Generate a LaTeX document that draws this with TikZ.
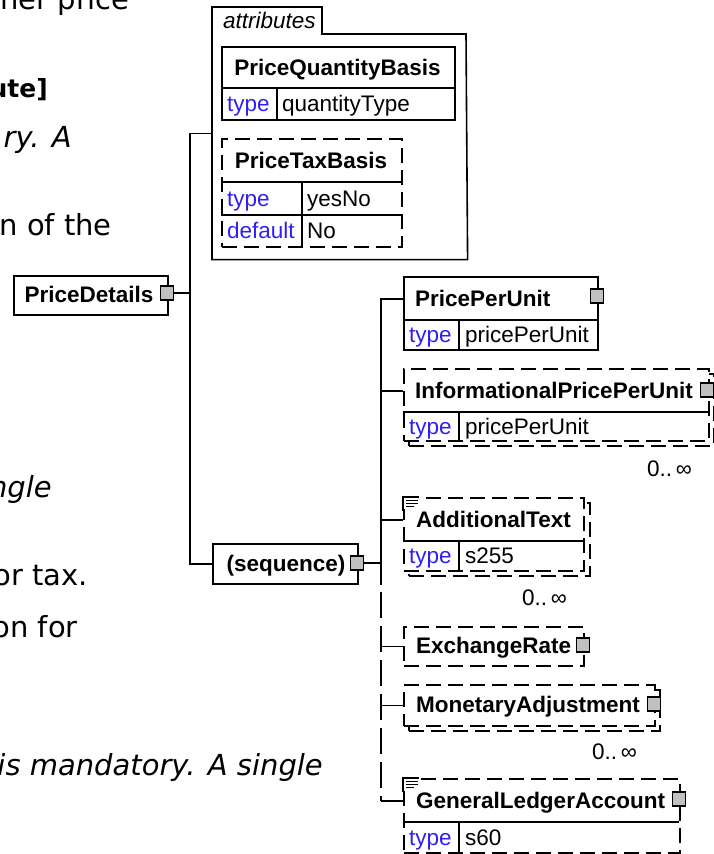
\documentclass[tikz,border=0pt]{standalone}
\usepackage{fontspec}
\setmainfont{Liberation Sans}
\newfontfamily\bgfont{DejaVu Sans}
\pgfdeclarelayer{bg}
\pgfsetlayers{bg,main}
\definecolor{shadowgray}{RGB}{198,198,198}
\definecolor{iconfill}{RGB}{192,192,192}
\definecolor{typeblue}{RGB}{48,32,240}
\tikzset{
  x=1pt, y=-1pt,
  ln/.style={line width=1.6pt, draw=black},
  elbox/.style={ln, fill=white, inner sep=0pt, anchor=north west},
  dashbox/.style={dash pattern=on 15pt off 7pt},
  spinedash/.style={ln, dash pattern=on 26pt off 8pt},
  icon/.style={ln, line width=1.3pt, fill=iconfill, minimum width=13pt, minimum height=14pt, inner sep=0pt},
  etxt/.style={font={\fontsize{22.5}{27}\selectfont}, inner sep=0pt, anchor=base west},
  ename/.style={etxt, font={\fontsize{22.5}{27}\selectfont\bfseries}},
  ecname/.style={ename, anchor=base},
  tkey/.style={etxt, text=typeblue},
  mult/.style={etxt, anchor=east},
  bgtxt/.style={font={\bgfont\fontsize{29}{34}\selectfont}, inner sep=0pt, anchor=base east},
  bgbf/.style={bgtxt, font={\bgfont\bfseries\fontsize{25}{30}\selectfont}},
  bgit/.style={bgtxt, font={\bgfont\itshape\fontsize{29}{34}\selectfont}},
}
\newcommand\elbox[6]{%
  \node[elbox,#6,minimum width={(#4-#2)*1pt},minimum height={(#5-#3)*1pt}] (#1) at (#2,#3) {};}
\newcommand\shadowof[1]{%
  \begin{pgfonlayer}{bg}\fill[shadowgray] ([shift={(5,5)}]#1.north west) rectangle ([shift={(5,5)}]#1.south east);\end{pgfonlayer}}
\newcommand\docicon[2]{%
  \fill[white] (#1-1,#2-1) rectangle (#1+17,#2+12);
  \draw[line width=1.3pt] (#1,#2+14) -- (#1,#2) -- (#1+16,#2);
  \draw[line width=1.1pt] (#1+3,#2+3.5) -- (#1+15,#2+3.5) (#1+3,#2+6.5) -- (#1+15,#2+6.5) (#1+3,#2+9.5) -- (#1+11,#2+9.5);}
\begin{document}
\begin{tikzpicture}
\useasboundingbox (0,0) rectangle (714,854);
\fill[white] (0,0) rectangle (714,854);

% background document text
\node[bgtxt] (b1) at (130,9) {ner price};
\node[bgbf] (b2) at (48,97) {ute]};
\node[bgit] (b3) at (72,147) {ry. A};
\node[bgtxt] (b4) at (112,235) {n of the};
\node[bgit] (b5) at (52,497) {ngle};
\node[bgtxt] (b6) at (88,585) {or tax.};
\node[bgtxt] (b7) at (78,637) {on for};
\node[bgit] (b8) at (323,775) {is mandatory. A single};

% attributes container
\elbox{attr}{212}{7}{466}{258}{draw=none, fill=none}
\draw[ln] (attr.south west) -- (212,7) -- (322,7) -- (322,34) -- (466,34) -- (attr.south east) -- cycle;
\node[etxt, font={\fontsize{22.5}{27}\selectfont\itshape}] (attrT) at (223,28) {attributes};

% PriceQuantityBasis
\elbox{pqb}{221}{46}{454}{119}{}
\shadowof{pqb}
\draw[ln] (221,88) -- (454,88) (277,88) -- (277,119);
\node[ecname] (pqbT) at (337.5,75) {PriceQuantityBasis};
\node[tkey] (pqbK) at (227,111) {type};
\node[etxt] (pqbV) at (282,111) {quantityType};

% PriceTaxBasis
\elbox{ptb}{221}{138}{401}{246}{dashbox}
\shadowof{ptb}
\draw[ln] (221,182) -- (401,182) (221,215) -- (401,215) (302,182) -- (302,246);
\node[ecname] (ptbT) at (311,168) {PriceTaxBasis};
\node[tkey] (ptbK1) at (227,206) {type};
\node[etxt] (ptbV1) at (307,206) {yesNo};
\node[tkey] (ptbK2) at (227,238) {default};
\node[etxt] (ptbV2) at (307,238) {No};

% PriceDetails
\elbox{pd}{13}{275}{167}{314}{}
\shadowof{pd}
\node[ecname] (pdT) at (89,302) {PriceDetails};
\node[icon] (pdI) at (167,293) {};

% sequence
\elbox{seq}{212}{543}{357}{583}{}
\shadowof{seq}
\node[ecname] (seqT) at (286,571) {(sequence)};
\node[icon] (seqI) at (357,563) {};

% PricePerUnit
\elbox{ppuB}{403}{276}{597}{349}{}
\shadowof{ppuB}
\elbox{ppu}{403}{276}{597}{320}{draw=none, fill=none}
\draw[ln] (403,320) -- (597,320) (459,320) -- (459,349);
\node[ename] (ppuT) at (415,306) {PricePerUnit};
\node[tkey] (ppuK) at (409,342) {type};
\node[etxt] (ppuV) at (465,342) {pricePerUnit};
\node[icon] (ppuI) at (597,296) {};

% InformationalPricePerUnit
\elbox{ipuBk}{408}{373}{713}{445}{dashbox}
\shadowof{ipuBk}
\elbox{ipuB}{403}{368}{708}{440}{dashbox}
\elbox{ipu}{403}{368}{708}{412}{draw=none, fill=none}
\draw[ln] (403,412) -- (708,412) (459,412) -- (459,440);
\node[ename] (ipuT) at (415,398) {InformationalPricePerUnit};
\node[tkey] (ipuK) at (409,434) {type};
\node[etxt] (ipuV) at (465,434) {pricePerUnit};
\node[icon] (ipuI) at (707,390) {};
\node[mult] (ipuM) at (692,469) {0..\,∞};

% AdditionalText
\elbox{atBk}{408}{502}{589}{575}{dashbox}
\shadowof{atBk}
\elbox{atB}{403}{497}{583}{570}{dashbox}
\elbox{at}{403}{497}{583}{541}{draw=none, fill=none}
\draw[ln] (403,541) -- (583,541) (459,541) -- (459,570);
\docicon{403}{497}
\node[ename] (atT) at (416,527) {AdditionalText};
\node[tkey] (atK) at (409,563) {type};
\node[etxt] (atV) at (465,563) {s255};
\node[mult] (atM) at (567,598) {0..\,∞};

% ExchangeRate
\elbox{er}{403}{626}{583}{665}{dashbox}
\shadowof{er}
\node[ename] (erT) at (416,653) {ExchangeRate};
\node[icon] (erI) at (583,645) {};

% MonetaryAdjustment
\elbox{maBk}{408}{689}{659}{730}{dashbox}
\shadowof{maBk}
\elbox{ma}{403}{684}{654}{725}{dashbox}
\node[ename] (maT) at (416,712) {MonetaryAdjustment};
\node[icon] (maI) at (654,704) {};
\node[mult] (maM) at (637,752) {0..\,∞};

% GeneralLedgerAccount
\elbox{glaB}{403}{778}{679}{852}{dashbox}
\shadowof{glaB}
\elbox{gla}{403}{778}{679}{822}{draw=none, fill=none}
\draw[ln] (403,822) -- (679,822) (459,822) -- (459,852);
\docicon{403}{778}
\node[ename] (glaT) at (416,808) {GeneralLedgerAccount};
\node[tkey] (glaK) at (409,845) {type};
\node[etxt] (glaV) at (465,845) {s60};
\node[icon] (glaI) at (679,799) {};

% connectors level 1
\coordinate (sp1) at (190,293);
\draw[ln] (pdI.center) -- (sp1);
\draw[ln] (attr.west) -| (sp1);
\draw[ln] (seq.west) -| (sp1);
\node[icon] at (pdI) {};

% connectors level 2
\coordinate (sp2) at (381,563);
\coordinate (sp2d) at (381,585);
\coordinate (sp2e) at (381,592);
\coordinate (glaJ) at (gla.west -| sp2);
\draw[ln] (seqI.center) -- (sp2);
\draw[ln] (ppu.west) -| (sp2d);
\draw[ln] (ipu.west) -- (ipu.west -| sp2);
\draw[ln] (at.west) -- (at.west -| sp2);
\draw[ln] (er.west) -- (er.west -| sp2);
\draw[ln] (ma.west) -- (ma.west -| sp2);
\draw[spinedash] (sp2e) -- (glaJ);
\draw[ln] (glaJ) -- (gla.west);
\node[icon] at (seqI) {};
\end{tikzpicture}
\end{document}
